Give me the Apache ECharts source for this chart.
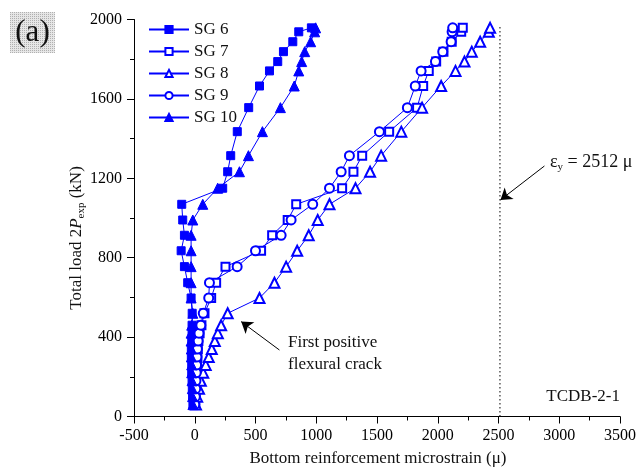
<!DOCTYPE html>
<html>
<head>
<meta charset="utf-8">
<script src="https://cdn.jsdelivr.net/npm/echarts@6/dist/echarts.min.js"></script>
<style>
  html, body { margin: 0; padding: 0; background: #fff; }
  #chart { width: 640px; height: 471px; }
</style>
</head>
<body>
<div id="chart"></div>
<script>
// Load steps (kN) shared by all strain gauges
const loads = [60, 100, 140, 180, 220, 260, 300, 340, 380, 420, 460, 520, 597, 674, 755, 835, 913, 990, 1069, 1150, 1233, 1314, 1435, 1556, 1665, 1741, 1788, 1838, 1888, 1938, 1958];

// Bottom reinforcement microstrain per gauge (null = no reading)
const sg6  = [-15, -18, -20, -22, -25, -25, -28, -28, -25, -22, -22, -21, -30, -58, -85, -112, -85, -99, -107, 230, 271, 296, 350, 444, 533, 615, 683, 730, 807, 856, 960];
const sg7  = [5, 8, 10, 12, 15, 18, 22, 25, 30, 40, 55, 80, 135, 176, 253, 546, 637, 765, 835, 1213, 1306, 1378, 1600, 1830, 1880, 1926, 1987, 2047, 2115, 2193, 2206];
const sg8  = [10, 20, 35, 50, 70, 90, 115, 140, 165, 190, 217, 271, 533, 656, 752, 843, 938, 1012, 1109, 1323, 1443, 1534, 1700, 1871, 2028, 2146, 2220, 2280, 2349, 2420, 2431];
const sg9  = [0, 5, 8, 10, 12, 15, 18, 22, 28, 35, 50, 70, 115, 121, 349, 500, 711, 793, 971, 1109, 1205, 1273, 1520, 1750, 1815, 1863, 1981, 2041, 2110, 2118, 2123];
const sg10 = [-15, -18, -20, -22, -25, -25, -28, -28, -30, -30, -25, -16, -30, -30, -30, -30, -30, -16, 66, 189, 368, 442, 557, 705, 819, 856, 880, 905, 954, 987, 995];

// Axis ticks
const xTicks = { min: -500, max: 3500, step: 500 };
const yTicks = { min: 0, max: 2000, step: 400 };

// Yield strain reference
const yieldStrain = 2512;

const pair = (xs) => loads.map((y, i) => (xs[i] == null ? null : [xs[i], y])).filter(Boolean);

const blue = '#0000ff';
const serif = '"Liberation Serif", "DejaVu Serif", serif';

// Dotted grey pattern for the panel tag box
const pat = document.createElement('canvas');
pat.width = 2; pat.height = 2;
const pctx = pat.getContext('2d');
pctx.fillStyle = '#e6e6e6'; pctx.fillRect(0, 0, 2, 2);
pctx.fillStyle = '#b0b0b0'; pctx.fillRect(0, 0, 1, 1);

const mk = (name, data, symbol, size) => ({
  name, type: 'line', data: pair(data), symbol, symbolSize: size,
  showAllSymbol: true,
  itemStyle: { color: blue, borderColor: blue, borderWidth: 1 },
  lineStyle: { color: blue, width: 1 },
  z: 3
});

const chart = echarts.init(document.getElementById('chart'), null, { renderer: 'canvas' });

chart.setOption({
  animation: false,
  backgroundColor: '#fff',
  grid: { left: 134, right: 20, top: 19.5, bottom: 54.5, containLabel: false },
  legend: {
    orient: 'vertical', left: 143, top: 16,
    itemWidth: 40, itemHeight: 9, itemGap: 5,
    data: ['SG 6', 'SG 7', 'SG 8', 'SG 9', 'SG 10'],
    textStyle: { fontFamily: serif, fontSize: 17, lineHeight: 17, color: '#111' }
  },
  xAxis: {
    type: 'value', min: xTicks.min, max: xTicks.max, interval: xTicks.step,
    axisLine: { onZero: false, lineStyle: { color: '#000', width: 1 } },
    axisTick: { inside: false, length: 7, lineStyle: { color: '#000' } },
    minorTick: { show: true, splitNumber: 2, length: 4, lineStyle: { color: '#000' } },
    splitLine: { show: false },
    axisLabel: { fontFamily: serif, fontSize: 16, color: '#000', margin: 11, formatter: (v) => String(v) }
  },
  yAxis: {
    type: 'value', min: yTicks.min, max: yTicks.max, interval: yTicks.step,
    axisLine: { show: true, onZero: false, lineStyle: { color: '#000', width: 1 } },
    axisTick: { show: true, inside: false, length: 7, lineStyle: { color: '#000' } },
    minorTick: { show: true, splitNumber: 2, length: 4, lineStyle: { color: '#000' } },
    splitLine: { show: false },
    axisLabel: { fontFamily: serif, fontSize: 16, color: '#000', margin: 12, formatter: (v) => String(v) }
  },
  series: [
    mk('SG 6', sg6, 'rect', 8),
    mk('SG 7', sg7, 'emptyRect', 8),
    mk('SG 8', sg8, 'emptyTriangle', 10),
    mk('SG 9', sg9, 'emptyCircle', 9),
    mk('SG 10', sg10, 'triangle', 10),
    {
      name: 'yield', type: 'line', symbol: 'none', silent: true,
      data: [[yieldStrain, 0], [yieldStrain, 1972]],
      lineStyle: { color: '#000', width: 1, type: [1.5, 2.5] },
      markLine: {
        silent: true, symbol: ['none', 'arrow'], symbolSize: 11,
        itemStyle: { color: '#000' },
        lineStyle: { color: '#000', width: 1, type: 'solid' },
        label: { show: false },
        data: [
          [{ coord: [2878, 1262] }, { coord: [2516, 1091] }],
          [{ coord: [697, 335] }, { coord: [382, 478] }]
        ]
      }
    }
  ],
  graphic: [
    { type: 'rect', shape: { x: 10, y: 12, width: 45, height: 41 }, style: { fill: { image: pat, repeat: 'repeat' } } },
    { type: 'text', x: 32.5, y: 33, style: { text: '(a)', font: '31px ' + serif, fill: '#111', align: 'center', verticalAlign: 'middle' } },
    {
      type: 'text', x: 77, y: 238, rotation: Math.PI / 2,
      style: {
        text: '{n|Total load 2}{i|P}{s|exp}{n| (kN)}',
        align: 'center', verticalAlign: 'middle',
        rich: {
          n: { fontFamily: serif, fontSize: 17, fill: '#111' },
          i: { fontFamily: serif, fontSize: 17, fontStyle: 'italic', fill: '#111' },
          s: { fontFamily: serif, fontSize: 11, fill: '#111', padding: [8, 0, 0, 0] }
        }
      }
    },
    { type: 'text', x: 378, y: 459, style: { text: 'Bottom reinforcement microstrain (μ)', font: '17px ' + serif, fill: '#111', align: 'center', verticalAlign: 'middle' } },
    {
      type: 'text', x: 550, y: 162,
      style: {
        text: '{n|ε}{s|y}{n| = 2512 μ}',
        verticalAlign: 'middle',
        rich: {
          n: { fontFamily: serif, fontSize: 18, fill: '#111' },
          s: { fontFamily: serif, fontSize: 11, fill: '#111', padding: [10, 0, 0, 0] }
        }
      }
    },
    { type: 'text', x: 288, y: 343, style: { text: 'First positive', font: '17px ' + serif, fill: '#111', verticalAlign: 'middle' } },
    { type: 'text', x: 288, y: 365, style: { text: 'flexural crack', font: '17px ' + serif, fill: '#111', verticalAlign: 'middle' } },
    { type: 'text', x: 620, y: 397, style: { text: 'TCDB-2-1', font: '17px ' + serif, fill: '#111', align: 'right', verticalAlign: 'middle' } }
  ]
});
</script>
</body>
</html>
